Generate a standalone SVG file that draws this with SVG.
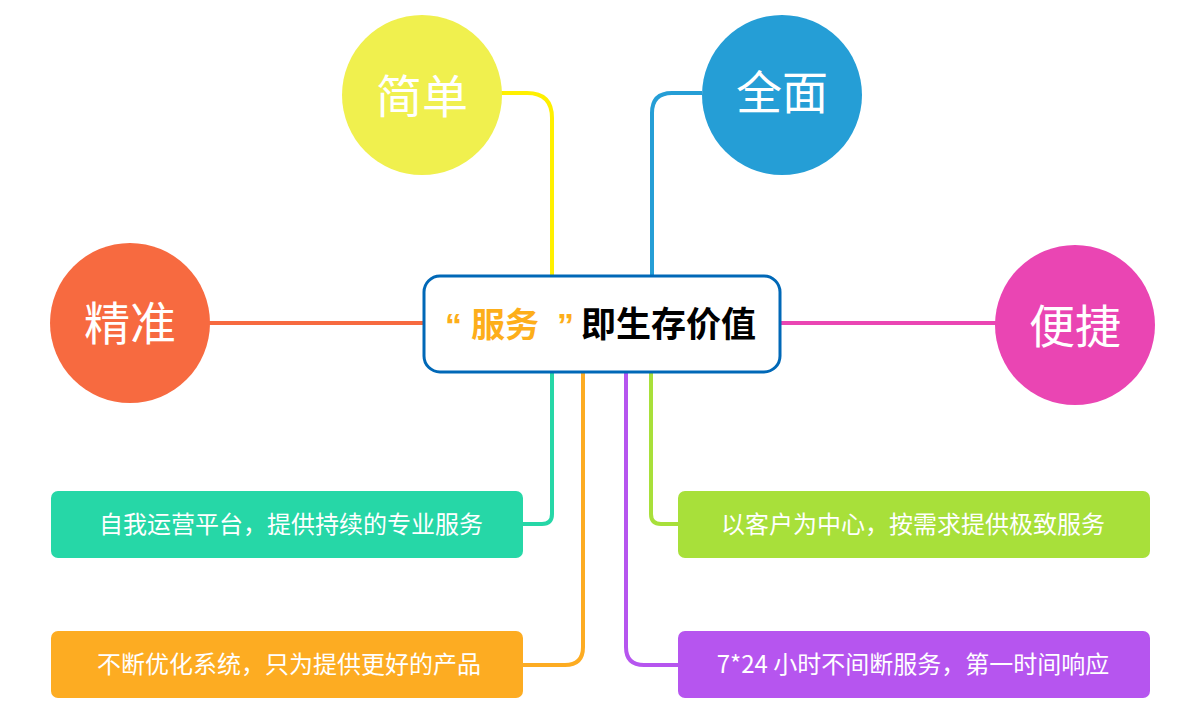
<svg xmlns="http://www.w3.org/2000/svg" width="1200" height="720" viewBox="0 0 1200 720">
<style>
.cjk{font-family:"Noto Sans CJK SC","Noto Sans",sans-serif}
.ct{font-size:46px;fill:#fff;text-anchor:middle}
.bt{font-size:24px;fill:#fff;text-anchor:middle}
.ln{fill:none;stroke-width:4}
.q{font-family:"Liberation Sans",sans-serif;font-size:34px;font-weight:bold;fill:#fdae1a}
</style>
<rect width="1200" height="720" fill="#fff"/>
<g id="connectors">
<path class="ln" stroke="#fff000" d="M500 93 H527 Q552 93 552 118 V276"/>
<path class="ln" stroke="#259ed6" d="M702 93 H672 Q652 93 652 113 V276"/>
<path class="ln" stroke="#f76a40" d="M208 323 H424"/>
<path class="ln" stroke="#ea45b3" d="M780 323 H997"/>
<path class="ln" stroke="#26d7a7" d="M552 372 V514 Q552 524 542 524 H522"/>
<path class="ln" stroke="#fdac22" d="M583 372 V647 Q583 665 565 665 H522"/>
<path class="ln" stroke="#b655ef" d="M626 372 V647 Q626 665 644 665 H679"/>
<path class="ln" stroke="#a8e03a" d="M651 372 V514 Q651 524 661 524 H679"/>
</g>
<g id="center">
<rect x="424" y="276" width="356" height="96" rx="16" fill="#fff" stroke="#0068b7" stroke-width="3"/>
<text class="q" x="445" y="337">“</text>
<text class="cjk" x="471" y="337" font-size="34" font-weight="bold" fill="#fdae1a">服务</text>
<text class="q" x="557" y="337">”</text>
<text class="cjk" x="581" y="337" font-size="35" font-weight="bold" fill="#000">即生存价值</text>
</g>
<g id="n-jiandan"><circle cx="422" cy="95" r="80" fill="#f0f04e"/><text class="cjk ct" x="422" y="113">简单</text></g>
<g id="n-quanmian"><circle cx="782" cy="95" r="80" fill="#259ed6"/><text class="cjk ct" x="782" y="109">全面</text></g>
<g id="n-jingzhun"><circle cx="130" cy="323" r="80" fill="#f76a40"/><text class="cjk ct" x="130" y="340">精准</text></g>
<g id="n-bianjie"><circle cx="1075" cy="325" r="80" fill="#ea45b3"/><text class="cjk ct" x="1075" y="343">便捷</text></g>
<g id="b1"><rect x="51" y="491" width="472" height="67" rx="7" fill="#26d7a7"/><text class="cjk bt" x="291" y="533">自我运营平台，提供持续的专业服务</text></g>
<g id="b2"><rect x="51" y="631" width="472" height="67" rx="7" fill="#fdac22"/><text class="cjk bt" x="289" y="673">不断优化系统，只为提供更好的产品</text></g>
<g id="b3"><rect x="678" y="491" width="472" height="67" rx="7" fill="#a8e03a"/><text class="cjk bt" x="913" y="533">以客户为中心，按需求提供极致服务</text></g>
<g id="b4"><rect x="678" y="631" width="472" height="67" rx="7" fill="#b655ef"/><text class="cjk bt" x="913" y="673">7*24 小时不间断服务，第一时间响应</text></g>
</svg>
